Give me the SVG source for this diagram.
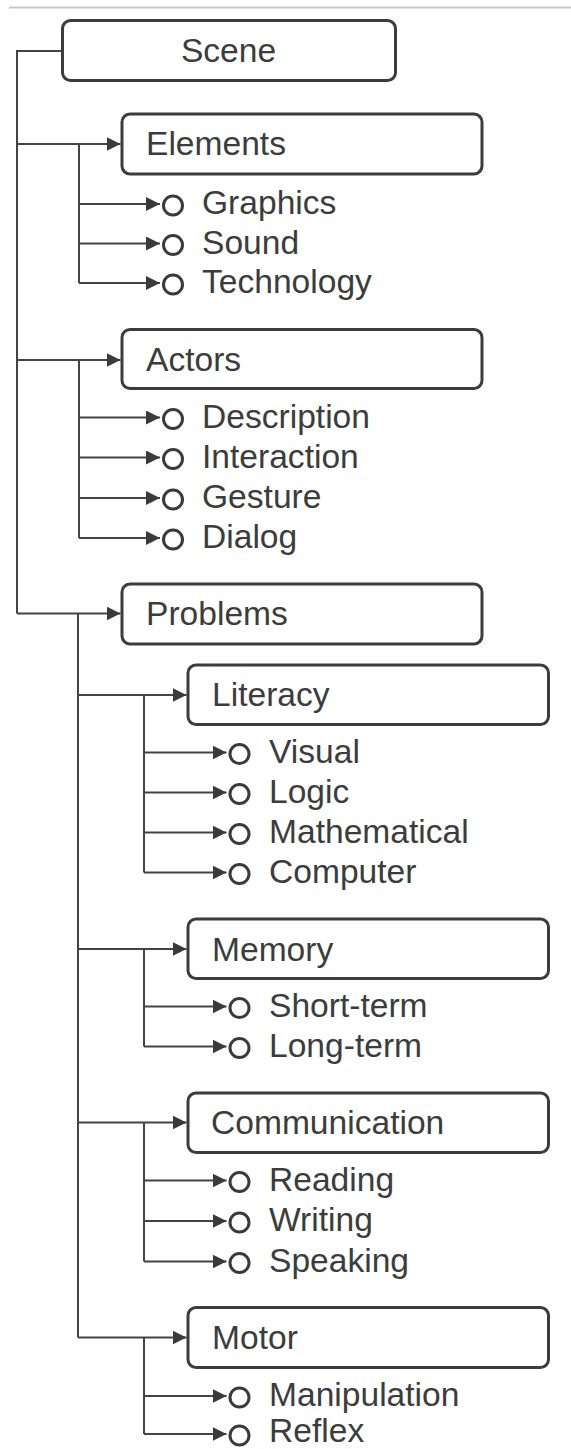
<svg xmlns="http://www.w3.org/2000/svg" width="571" height="1449" viewBox="0 0 571 1449">
<style>
.box{fill:#fff;stroke:#3c3c3c;stroke-width:3}
.t{font-family:"Liberation Sans",Arial,sans-serif;font-size:33.6px;fill:#3c3c3c}
.c{fill:none;stroke:#444;stroke-width:2}
.a{fill:none;stroke:#444;stroke-width:2;marker-end:url(#ah)}
.o{fill:#fff;stroke:#3a3a3a;stroke-width:3}
</style>
<defs>
<marker id="ah" markerUnits="userSpaceOnUse" markerWidth="15" markerHeight="15" refX="14" refY="7" orient="auto">
<path d="M0,0 L14,7 L0,14 z" fill="#3a3a3a"/>
</marker>
</defs>
<line x1="9" y1="7.5" x2="571" y2="7.5" stroke="#c8c8c8" stroke-width="2"/>
<g id="connectors">
<path class="c" d="M62,51 H17 V613.5"/>
<path class="a" d="M17,144 H120.5"/>
<path class="a" d="M17,360 H120.5"/>
<path class="a" d="M17,613.5 H120.5"/>
<path class="c" d="M79,144 V283"/>
<path class="a" d="M79,204 H160"/>
<path class="a" d="M79,243.5 H160"/>
<path class="a" d="M79,283 H160"/>
<path class="c" d="M79,360 V538"/>
<path class="a" d="M79,417.5 H160"/>
<path class="a" d="M79,457.5 H160"/>
<path class="a" d="M79,498 H160"/>
<path class="a" d="M79,538 H160"/>
<path class="c" d="M78,613.5 V1337.5"/>
<path class="a" d="M78,695 H186.5"/>
<path class="a" d="M78,949 H186.5"/>
<path class="a" d="M78,1122.5 H186.5"/>
<path class="a" d="M78,1337.5 H186.5"/>
<path class="c" d="M144,695 V872.5"/>
<path class="a" d="M144,752.5 H226.5"/>
<path class="a" d="M144,792.5 H226.5"/>
<path class="a" d="M144,832.5 H226.5"/>
<path class="a" d="M144,872.5 H226.5"/>
<path class="c" d="M144,949 V1046.5"/>
<path class="a" d="M144,1006.5 H226.5"/>
<path class="a" d="M144,1046.5 H226.5"/>
<path class="c" d="M144,1122.5 V1261.5"/>
<path class="a" d="M144,1180.5 H226.5"/>
<path class="a" d="M144,1221 H226.5"/>
<path class="a" d="M144,1261.5 H226.5"/>
<path class="c" d="M144,1337.5 V1434"/>
<path class="a" d="M144,1396 H226.5"/>
<path class="a" d="M144,1434 H226.5"/>
</g>
<g id="scene"><rect class="box" x="62.5" y="20.5" width="333" height="60" rx="8"/><text class="t" x="228.5" y="62" text-anchor="middle">Scene</text></g>
<g id="elements"><rect class="box" x="122" y="114" width="360" height="60" rx="8"/><text class="t" x="146" y="155">Elements</text></g>
<g id="graphics"><circle class="o" cx="173" cy="205.5" r="9.5"/><text class="t" x="202" y="214">Graphics</text></g>
<g id="sound"><circle class="o" cx="173" cy="245" r="9.5"/><text class="t" x="202" y="253.5">Sound</text></g>
<g id="technology"><circle class="o" cx="173" cy="284.5" r="9.5"/><text class="t" x="202" y="293">Technology</text></g>
<g id="actors"><rect class="box" x="122" y="329.5" width="360" height="59" rx="8"/><text class="t" x="146" y="370.5">Actors</text></g>
<g id="description"><circle class="o" cx="173" cy="419" r="9.5"/><text class="t" x="202" y="427.5">Description</text></g>
<g id="interaction"><circle class="o" cx="173" cy="459" r="9.5"/><text class="t" x="202" y="467.5">Interaction</text></g>
<g id="gesture"><circle class="o" cx="173" cy="499.5" r="9.5"/><text class="t" x="202" y="508">Gesture</text></g>
<g id="dialog"><circle class="o" cx="173" cy="539.5" r="9.5"/><text class="t" x="202" y="548">Dialog</text></g>
<g id="problems"><rect class="box" x="122" y="584" width="360" height="60" rx="8"/><text class="t" x="146" y="625">Problems</text></g>
<g id="literacy"><rect class="box" x="188" y="665" width="360.5" height="59.5" rx="8"/><text class="t" x="212" y="706">Literacy</text></g>
<g id="visual"><circle class="o" cx="239.5" cy="754" r="9.5"/><text class="t" x="269" y="762.5">Visual</text></g>
<g id="logic"><circle class="o" cx="239.5" cy="794" r="9.5"/><text class="t" x="269" y="802.5">Logic</text></g>
<g id="mathematical"><circle class="o" cx="239.5" cy="834" r="9.5"/><text class="t" x="269" y="842.5">Mathematical</text></g>
<g id="computer"><circle class="o" cx="239.5" cy="874" r="9.5"/><text class="t" x="269" y="882.5">Computer</text></g>
<g id="memory"><rect class="box" x="188" y="919" width="360.5" height="59.5" rx="8"/><text class="t" x="212" y="960.5">Memory</text></g>
<g id="short-term"><circle class="o" cx="239.5" cy="1008" r="9.5"/><text class="t" x="269" y="1016.5">Short-term</text></g>
<g id="long-term"><circle class="o" cx="239.5" cy="1048" r="9.5"/><text class="t" x="269" y="1056.5">Long-term</text></g>
<g id="communication"><rect class="box" x="188" y="1093" width="360.5" height="59.5" rx="8"/><text class="t" x="211" y="1134">Communication</text></g>
<g id="reading"><circle class="o" cx="239.5" cy="1182" r="9.5"/><text class="t" x="269" y="1190.5">Reading</text></g>
<g id="writing"><circle class="o" cx="239.5" cy="1222.5" r="9.5"/><text class="t" x="269" y="1231">Writing</text></g>
<g id="speaking"><circle class="o" cx="239.5" cy="1263" r="9.5"/><text class="t" x="269" y="1271.5">Speaking</text></g>
<g id="motor"><rect class="box" x="188" y="1307.5" width="360.5" height="60" rx="8"/><text class="t" x="212" y="1349">Motor</text></g>
<g id="manipulation"><circle class="o" cx="239.5" cy="1397.5" r="9.5"/><text class="t" x="269" y="1406">Manipulation</text></g>
<g id="reflex"><circle class="o" cx="239.5" cy="1435.5" r="9.5"/><text class="t" x="269" y="1441.5">Reflex</text></g>
</svg>
